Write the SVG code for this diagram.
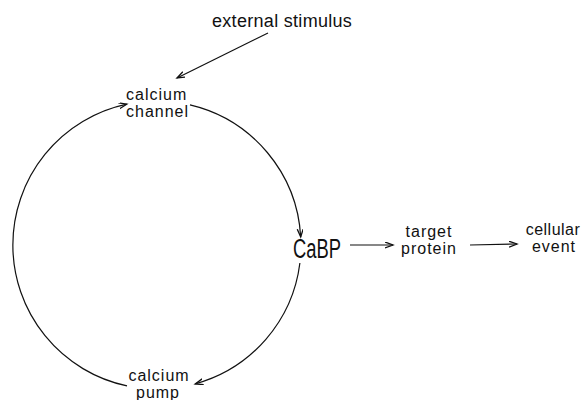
<svg xmlns="http://www.w3.org/2000/svg" width="584" height="400" viewBox="0 0 584 400">
<style>
text{font-family:"Liberation Sans",Arial,sans-serif;fill:#111;font-size:16px;letter-spacing:1px}
.c{fill:none;stroke:#111;stroke-width:1.2}
</style>
<defs>
<marker id="ah" markerWidth="10" markerHeight="8" refX="8" refY="3" orient="auto" markerUnits="userSpaceOnUse">
<path d="M0,0 L8,3 L0,6" fill="none" stroke="#111" stroke-width="1.3"/>
</marker>
</defs>
<rect width="584" height="400" fill="#fff"/>
<g id="connectors">
<line class="c" x1="268" y1="33" x2="177" y2="78" marker-end="url(#ah)"/>
<path class="c" d="M190,104.8 A144,144 0 0 1 300.7,237" marker-end="url(#ah)"/>
<path class="c" d="M299.9,263 A144,144 0 0 1 195.2,383.9" marker-end="url(#ah)"/>
<path class="c" d="M127,385.9 A144,144 0 0 1 126.8,104.2" marker-end="url(#ah)"/>
<line class="c" x1="350" y1="245" x2="393" y2="245" marker-end="url(#ah)"/>
<line class="c" x1="470" y1="245" x2="517" y2="244" marker-end="url(#ah)"/>
</g>
<g id="external-stimulus"><text x="212" y="27" style="font-size:18px;letter-spacing:0.3px">external stimulus</text></g>
<g id="calcium-channel"><text x="126" y="100">calcium</text><text x="126" y="117">channel</text></g>
<g id="cabp"><text x="293" y="258" textLength="48" lengthAdjust="spacingAndGlyphs" style="font-size:27px;letter-spacing:0">CaBP</text></g>
<g id="target-protein"><text x="429" y="237" text-anchor="middle">target</text><text x="429" y="254" text-anchor="middle">protein</text></g>
<g id="cellular-event"><text x="553" y="235" text-anchor="middle" style="letter-spacing:0.5px">cellular</text><text x="554" y="252" text-anchor="middle">event</text></g>
<g id="calcium-pump"><text x="159" y="381" text-anchor="middle">calcium</text><text x="158" y="398" text-anchor="middle">pump</text></g>
</svg>
